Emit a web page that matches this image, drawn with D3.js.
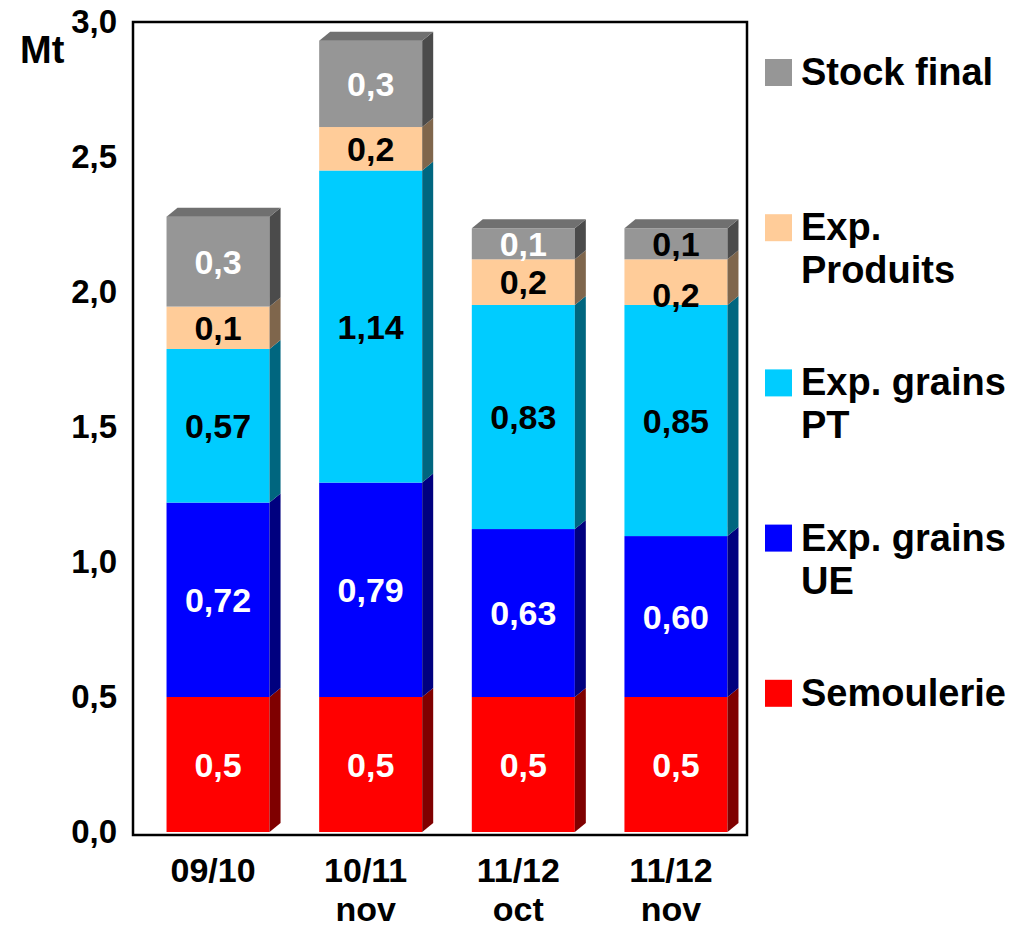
<!DOCTYPE html>
<html>
<head>
<meta charset="utf-8">
<script src="https://cdn.jsdelivr.net/npm/d3@7"></script>
<style>
  html, body { margin: 0; padding: 0; background: #fff; }
  svg { display: block; font-family: "Liberation Sans", Arial, sans-serif; font-weight: bold; }
</style>
</head>
<body>
<svg id="chart" width="1034" height="928"></svg>
<script>
// ---- Data ----
const categories = ["09/10 ", "10/11 nov", "11/12 oct", "11/12 nov"];
const categoryLines = [["09/10"], ["10/11", "nov"], ["11/12", "oct"], ["11/12", "nov"]];
const seriesNames = ["Semoulerie", "Exp. grains UE", "Exp. grains PT", "Exp. Produits", "Stock final"];
const legendLines = [["Semoulerie"], ["Exp. grains", "UE"], ["Exp. grains", "PT"], ["Exp.", "Produits"], ["Stock final"]];
const semoulerie  = [0.50, 0.50, 0.50, 0.50];
const grainsUE    = [0.72, 0.794, 0.622, 0.596];
const grainsPT    = [0.569, 1.156, 0.830, 0.856];
const expProduits = [0.157, 0.161, 0.169, 0.169];
const stockFinal  = [0.333, 0.320, 0.115, 0.115];
const lblSemoulerie = ["0,5", "0,5", "0,5", "0,5"];
const lblUE         = ["0,72", "0,79", "0,63", "0,60"];
const lblPT         = ["0,57", "1,14", "0,83", "0,85"];
const lblProduits   = ["0,1", "0,2", "0,2", "0,2"];
const lblStock      = ["0,3", "0,3", "0,1", "0,1"];
const yTicks = [0, 0.5, 1.0, 1.5, 2.0, 2.5, 3.0];
const yTickLabels = ["0,0", "0,5", "1,0", "1,5", "2,0", "2,5", "3,0"];
const unitLabel = "Mt";

// ---- Styles ----
const colors = ["#FF0000", "#0000FF", "#00CCFF", "#FFCC99", "#969696"];
const sideColors = ["#7F0000", "#00007F", "#00667F", "#7F664C", "#4B4B4B"];
const topColors = ["#C00000", "#0000C0", "#0099C0", "#C09973", "#707070"];
const labelColors = [
  ["#fff", "#fff", "#fff", "#fff"],
  ["#fff", "#fff", "#fff", "#fff"],
  ["#000", "#000", "#000", "#000"],
  ["#000", "#000", "#000", "#000"],
  ["#fff", "#fff", "#fff", "#000"]
];

const seriesValues = [semoulerie, grainsUE, grainsPT, expProduits, stockFinal];
const seriesLabels = [lblSemoulerie, lblUE, lblPT, lblProduits, lblStock];

const svg = d3.select("#chart");
const y = d3.scaleLinear().domain([0, 3]).range([832, 22]);
const x = d3.scaleBand().domain(categories).range([136, 758]).paddingInner(0.325).paddingOuter(0.2);
const dx = 11, dy = 9;

// stack
const rows = categories.map((c, i) => {
  const o = { cat: c };
  seriesNames.forEach((s, k) => o[s] = seriesValues[k][i]);
  return o;
});
const stacked = d3.stack().keys(seriesNames)(rows);

// bars
const gBars = svg.append("g");
stacked.forEach((layer, k) => {
  const isTop = k === stacked.length - 1;
  layer.forEach((d, i) => {
    const x0 = x(categories[i]), w = x.bandwidth();
    const yb = y(d[0]), yt = y(d[1]);
    const g = gBars.append("g");
    g.append("rect").attr("x", x0).attr("y", yt).attr("width", w).attr("height", yb - yt).attr("fill", colors[k]);
    g.append("path")
      .attr("d", `M${x0 + w},${yb} L${x0 + w + dx},${yb - dy} L${x0 + w + dx},${yt - dy} L${x0 + w},${yt} Z`)
      .attr("fill", sideColors[k]);
    if (isTop) {
      g.append("path")
        .attr("d", `M${x0},${yt} L${x0 + dx},${yt - dy} L${x0 + w + dx},${yt - dy} L${x0 + w},${yt} Z`)
        .attr("fill", topColors[k]);
    }
  });
});

// value labels
const gLbl = svg.append("g").attr("font-size", 34).attr("text-anchor", "middle");
stacked.forEach((layer, k) => {
  layer.forEach((d, i) => {
    let cy = (y(d[0]) + y(d[1])) / 2;
    if (k === 3 && i === 3) cy += 13;
    gLbl.append("text")
      .attr("x", x(categories[i]) + x.bandwidth() / 2)
      .attr("y", cy + 12)
      .attr("fill", labelColors[k][i])
      .text(seriesLabels[k][i]);
  });
});

// frame
svg.append("rect").attr("x", 133).attr("y", 22).attr("width", 614).attr("height", 813)
  .attr("fill", "none").attr("stroke", "#000").attr("stroke-width", 2.5);

// y axis labels
const gY = svg.append("g").attr("font-size", 33).attr("text-anchor", "end");
yTicks.forEach((t, i) => {
  gY.append("text").attr("x", 117).attr("y", y(t) + 11).text(yTickLabels[i]);
});
svg.append("text").attr("x", 20).attr("y", 63).attr("font-size", 38).text(unitLabel);

// category labels
const gX = svg.append("g").attr("font-size", 34).attr("text-anchor", "middle");
categories.forEach((c, i) => {
  const cx = x(c) + x.bandwidth() / 2 - 5;
  categoryLines[i].forEach((line, j) => {
    gX.append("text").attr("x", cx).attr("y", 882 + j * 39).text(line);
  });
});

// legend (top to bottom: reverse series order)
const gL = svg.append("g").attr("font-size", 38);
const legOrder = [4, 3, 2, 1, 0];
legOrder.forEach((k, idx) => {
  const top = 59 + idx * 155.2;
  gL.append("rect").attr("x", 765).attr("y", top).attr("width", 27).attr("height", 27).attr("fill", colors[k]);
  legendLines[k].forEach((line, j) => {
    gL.append("text").attr("x", 801).attr("y", top + 26 + j * 43).text(line);
  });
});
</script>
</body>
</html>
